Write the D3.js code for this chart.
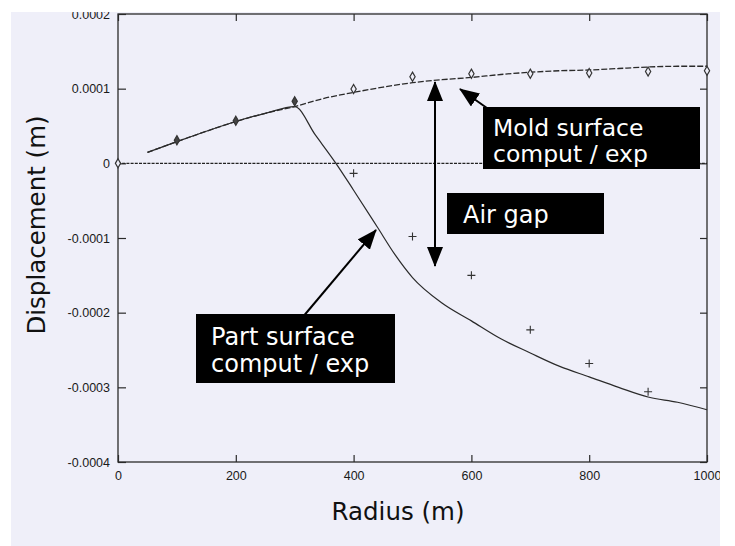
<!DOCTYPE html>
<html>
<head>
<meta charset="utf-8">
<script src="https://cdn.jsdelivr.net/npm/d3@7/dist/d3.min.js"></script>
<style>
  html, body { margin: 0; padding: 0; background: #ffffff; }
  svg { display: block; }
</style>
</head>
<body>
<script>
// Radii (m) for the computed curves and the measured points
const computedRadius = [50, 100, 150, 200, 250, 300, 350, 400, 450, 500, 550, 600, 650, 700, 750, 800, 850, 900, 950, 1000];
const moldComputed   = [0.0000147, 0.000029, 0.000043, 0.000056, 0.000067, 0.000076, 0.000087, 0.000095, 0.000102, 0.000108, 0.000112, 0.000115, 0.000119, 0.000122, 0.000124, 0.000125, 0.000127, 0.000129, 0.00013, 0.00013];

const partRadius     = [50, 100, 150, 200, 250, 300, 335, 370, 400, 440, 470, 500, 550, 600, 650, 700, 750, 800, 850, 900, 950, 1000];
const partComputed   = [0.0000147, 0.000029, 0.000043, 0.000056, 0.000067, 0.000076, 0.000038, 0.0, -0.000036, -0.000085, -0.000122, -0.000153, -0.000187, -0.000211, -0.000235, -0.000254, -0.000272, -0.000286, -0.0003, -0.000313, -0.00032, -0.00033];

const moldExpRadius  = [0, 100, 200, 300, 400, 500, 600, 700, 800, 900, 1000];
const moldExp        = [0, 0.000031, 0.000057, 0.000083, 0.0000995, 0.000116, 0.00012, 0.00012, 0.000121, 0.000123, 0.000124];

const partExpRadius  = [400, 500, 600, 700, 800, 900];
const partExp        = [-0.0000134, -0.000098, -0.00015, -0.000223, -0.000268, -0.000306];

// Axis ticks
const xTicks = [0, 200, 400, 600, 800, 1000];
const xTickLabels = ["0", "200", "400", "600", "800", "1000"];
const yTicks = [-0.0004, -0.0003, -0.0002, -0.0001, 0, 0.0001, 0.0002];
const yTickLabels = ["-0.0004", "-0.0003", "-0.0002", "-0.0001", "0", "0.0001", "0.0002"];

const W = 735, H = 546;
const plot = { left: 118, right: 707, top: 14, bottom: 462 };

const svg = d3.select("body").append("svg")
  .attr("width", W).attr("height", H);

// tinted page
svg.append("rect").attr("x", 11).attr("y", 12).attr("width", 709).attr("height", H - 12)
  .attr("fill", "#efeff9");

const x = d3.scaleLinear().domain([0, 1000]).range([plot.left, plot.right]);
const y = d3.scaleLinear().domain([-0.0004, 0.0002]).range([plot.bottom, plot.top]);

const tickFont = "'Liberation Sans', Arial, sans-serif";
const ink = "#2a2a2a";

function styleAxis(g) {
  g.select(".domain").remove();
  g.selectAll(".tick line").attr("stroke", ink).attr("stroke-width", 1.2);
  g.selectAll(".tick text").attr("fill", "#1a1a1a").attr("font-family", tickFont).attr("font-size", 12.5);
}

// left and bottom axes with inward ticks and labels
svg.append("g").attr("transform", `translate(${plot.left},0)`)
  .call(d3.axisLeft(y).tickValues(yTicks).tickSizeInner(-8).tickSizeOuter(0).tickPadding(8)
    .tickFormat((d, i) => yTickLabels[i]))
  .call(styleAxis);

svg.append("g").attr("transform", `translate(0,${plot.bottom})`)
  .call(d3.axisBottom(x).tickValues(xTicks).tickSizeInner(-7).tickSizeOuter(0).tickPadding(9)
    .tickFormat((d, i) => xTickLabels[i]))
  .call(styleAxis);

// mirrored ticks on top and right, no labels
svg.append("g").attr("transform", `translate(0,${plot.top})`)
  .call(d3.axisTop(x).tickValues(xTicks).tickSizeInner(-7).tickSizeOuter(0).tickFormat(""))
  .call(styleAxis);
svg.append("g").attr("transform", `translate(${plot.right},0)`)
  .call(d3.axisRight(y).tickValues(yTicks).tickSizeInner(-7).tickSizeOuter(0).tickFormat(""))
  .call(styleAxis);

// frame
svg.append("rect")
  .attr("x", plot.left).attr("y", plot.top)
  .attr("width", plot.right - plot.left).attr("height", plot.bottom - plot.top)
  .attr("fill", "none").attr("stroke", ink).attr("stroke-width", 1.3);

// zero reference line
svg.append("line")
  .attr("x1", x(0)).attr("x2", x(1000)).attr("y1", y(0)).attr("y2", y(0))
  .attr("stroke", "#222").attr("stroke-width", 1.3).attr("stroke-dasharray", "3,1.2");

const line = d3.line().curve(d3.curveMonotoneX);

// mold surface (computed) - dashed
svg.append("path")
  .attr("d", line(computedRadius.map((r, i) => [x(r), y(moldComputed[i])])))
  .attr("fill", "none").attr("stroke", "#2a2a2a").attr("stroke-width", 1.3)
  .attr("stroke-dasharray", "6,2");

// part surface (computed) - solid
svg.append("path")
  .attr("d", line(partRadius.map((r, i) => [x(r), y(partComputed[i])])))
  .attr("fill", "none").attr("stroke", "#2a2a2a").attr("stroke-width", 1.2);

// mold surface measurements - open diamonds
const diamond = d3.symbol().type(d3.symbolDiamond).size(24);
svg.append("g").selectAll("path").data(moldExpRadius).join("path")
  .attr("transform", (r, i) => `translate(${x(r)},${y(moldExp[i])})`)
  .attr("d", diamond)
  .attr("fill", (r) => r > 0 && r <= 300 ? "#444" : "#efeff9")
  .attr("stroke", "#333").attr("stroke-width", 1.2);

// part surface measurements - plus signs
svg.append("g").selectAll("path").data(partExpRadius).join("path")
  .attr("transform", (r, i) => `translate(${x(r)},${y(partExp[i])})`)
  .attr("d", "M-4,0H4M0,-4V4")
  .attr("fill", "none").attr("stroke", "#333").attr("stroke-width", 1.1);

// arrows
const defs = svg.append("defs");
defs.append("marker").attr("id", "head")
  .attr("viewBox", "0 0 20 16").attr("refX", 19).attr("refY", 8)
  .attr("markerUnits", "userSpaceOnUse")
  .attr("markerWidth", 20).attr("markerHeight", 16).attr("orient", "auto-start-reverse")
  .append("path").attr("d", "M0,0L20,8L0,16Z").attr("fill", "#000");

function arrow(x1, y1, x2, y2, both) {
  const l = svg.append("line")
    .attr("x1", x1).attr("y1", y1).attr("x2", x2).attr("y2", y2)
    .attr("stroke", "#000").attr("stroke-width", 2)
    .attr("marker-end", "url(#head)");
  if (both) l.attr("marker-start", "url(#head)");
}

// air gap span between the two surfaces
arrow(435, 82, 435, 266, true);
// pointer to mold curve
arrow(494, 113, 460, 89, false);
// pointer to part curve
arrow(302, 318, 376, 230, false);

// annotation boxes: one text element per box, one tspan per line
const boxFont = "'DejaVu Sans', Verdana, sans-serif";
function note(bx, by, bw, bh, lines, tx, firstBaseline, lineGap, size) {
  svg.append("rect").attr("x", bx).attr("y", by).attr("width", bw).attr("height", bh).attr("fill", "#000");
  const t = svg.append("text")
    .attr("fill", "#fff").attr("font-family", boxFont).attr("font-size", size);
  lines.forEach((s, i) => {
    t.append("tspan").attr("x", tx).attr("y", firstBaseline + i * lineGap).text(s);
  });
}
note(483, 107, 217, 62, ["Mold surface", "comput / exp"], 493, 135.5, 26, 23.5);
note(447, 193, 157, 41, ["Air gap"], 463, 222.5, 0, 24);
note(196, 314, 199, 69, ["Part surface", "comput / exp"], 211, 345, 26.5, 24);

// axis titles
svg.append("text")
  .attr("transform", "translate(45,225) rotate(-90)")
  .attr("text-anchor", "middle")
  .attr("font-family", boxFont).attr("font-size", 24.5).attr("fill", "#111")
  .text("Displacement (m)");

svg.append("text")
  .attr("x", 398).attr("y", 520)
  .attr("text-anchor", "middle")
  .attr("font-family", boxFont).attr("font-size", 24.5).attr("fill", "#111")
  .text("Radius (m)");

// page margins
svg.append("rect").attr("x", 0).attr("y", 0).attr("width", W).attr("height", 12).attr("fill", "#fff");
svg.append("rect").attr("x", 720).attr("y", 0).attr("width", 15).attr("height", H).attr("fill", "#fff");
svg.append("rect").attr("x", 0).attr("y", 0).attr("width", 11).attr("height", H).attr("fill", "#fff");
</script>
</body>
</html>
